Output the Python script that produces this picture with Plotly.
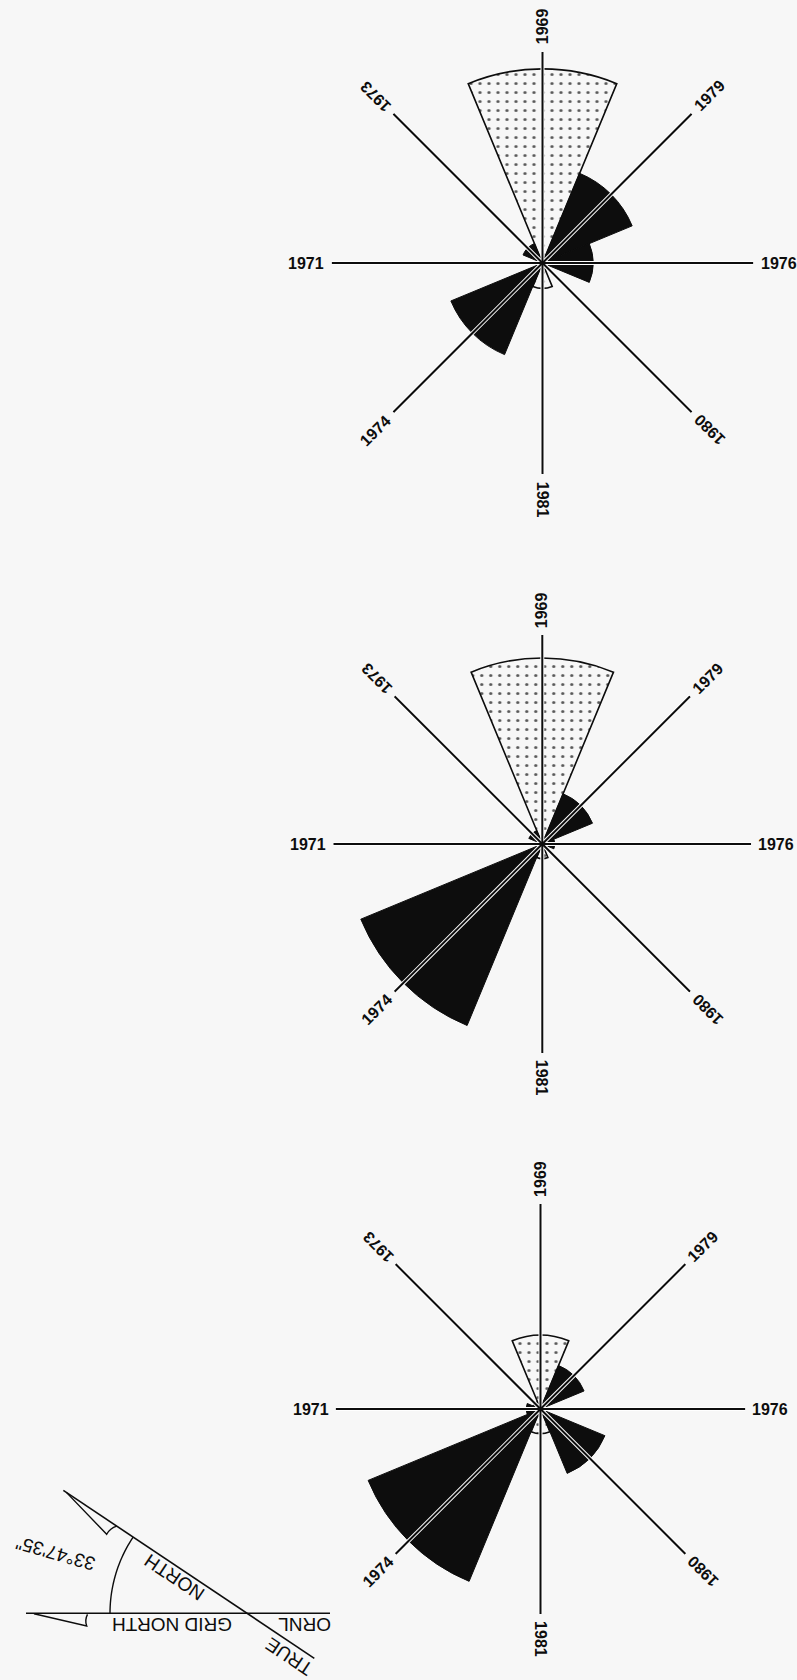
import math
import plotly.graph_objects as go

W, H = 797, 1680
BG = "#f7f7f7"
INK = "#0d0d0d"
FONT = "Liberation Sans, Arial, sans-serif"

# Eight directions, clockwise from the top
years = ["1969", "1979", "1976", "1980", "1981", "1974", "1971", "1973"]
label_angles = [-90, -45, 0, -135, 90, -45, 0, -135]

# Sector lengths, in percent of the spoke length
top_stippled = [92, 0, 0, 0, 12, 0, 0, 0]
top_solid = [0, 46, 24, 0, 0, 47, 0, 10]
mid_stippled = [89, 0, 0, 0, 7, 0, 0, 0]
mid_solid = [0, 26, 6, 0, 0, 94, 0, 7]
bot_stippled = [36, 0, 0, 0, 12, 0, 0, 0]
bot_solid = [0, 23, 0, 34, 0, 91, 7, 4]
SPOKE = 100

panels = [
    dict(cx=542.5, cy=263, R=211, stippled=top_stippled, solid=top_solid),
    dict(cx=542.3, cy=844, R=209, stippled=mid_stippled, solid=mid_solid),
    dict(cx=540.5, cy=1409, R=205, stippled=bot_stippled, solid=bot_solid),
]

fig = go.Figure()
layout_polars = {}
annotations = []

for i, p in enumerate(panels):
    key = "polar" if i == 0 else f"polar{i + 1}"
    sub = key
    cx, cy, R = p["cx"], p["cy"], p["R"]
    layout_polars[key] = dict(
        domain=dict(x=[(cx - R) / W, (cx + R) / W],
                    y=[1 - (cy + R) / H, 1 - (cy - R) / H]),
        bgcolor="rgba(0,0,0,0)",
        bargap=0,
        barmode="overlay",
        radialaxis=dict(visible=False, range=[0, SPOKE]),
        angularaxis=dict(visible=False, type="category", categoryarray=years,
                         rotation=90, direction="clockwise"),
    )
    fig.add_trace(go.Barpolar(
        r=p["stippled"], theta=years, subplot=sub, showlegend=False,
        marker=dict(color=BG, line=dict(color=INK, width=1.6),
                    pattern=dict(shape=".", fgcolor="#5a5a5a", bgcolor=BG,
                                 size=9, solidity=0.1, fillmode="replace")),
    ))
    fig.add_trace(go.Barpolar(
        r=p["solid"], theta=years, subplot=sub, showlegend=False,
        marker=dict(color=INK, line=dict(color=INK, width=1)),
    ))
    # spokes: white halo under a dark line
    th, rr = [], []
    for y in years:
        th += [y, y, None]
        rr += [0, SPOKE, None]
    fig.add_trace(go.Scatterpolar(r=rr, theta=th, mode="lines", subplot=sub,
                                  line=dict(color="white", width=4),
                                  showlegend=False, hoverinfo="skip"))
    fig.add_trace(go.Scatterpolar(r=rr, theta=th, mode="lines", subplot=sub,
                                  line=dict(color=INK, width=2),
                                  showlegend=False, hoverinfo="skip"))
    # direction labels beyond the spoke ends
    rl = 1.12 * R
    for k, (y, ang) in enumerate(zip(years, label_angles)):
        a = math.radians(45 * k)
        annotations.append(dict(
            x=cx + rl * math.sin(a), y=cy - rl * math.cos(a),
            xref="x", yref="y", text=y, showarrow=False, textangle=ang,
            xanchor="center", yanchor="middle",
            font=dict(family=FONT, size=16, color=INK, weight="bold"),
        ))

# Grid-north / true-north key
ox, oy = 247, 1613.3
dec = math.radians(33 + 47 / 60 + 35 / 3600)
ux, uy = -math.cos(dec), -math.sin(dec)
tn_far = (ox + 221 * ux, oy + 221 * uy)
tn_near = (ox - 81 * ux, oy - 81 * uy)
shapes = [
    dict(type="line", xref="x", yref="y", x0=26, y0=oy, x1=330, y1=oy,
         line=dict(color=INK, width=1.6)),
    dict(type="line", xref="x", yref="y", x0=tn_far[0], y0=tn_far[1],
         x1=tn_near[0], y1=tn_near[1], line=dict(color=INK, width=1.6)),
    dict(type="path", xref="x", yref="y",
         path=f"M 34,{oy + 0.5} L 86.7,1626 Q 84.5,1620 87.5,{oy + 1}",
         line=dict(color=INK, width=1.4)),
]
bx0, by0 = tn_far[0] + 3, tn_far[1] + 2
bx2 = 116.7
by2 = oy + (bx2 - ox) * math.tan(dec)
shapes.append(dict(type="path", xref="x", yref="y",
                   path=f"M {bx0},{by0} L 106.7,1534.3 Q 110,1528 {bx2},{by2}",
                   line=dict(color=INK, width=1.4)))
arc_r = 137
pts = []
for s in range(25):
    t = math.pi + dec * s / 24
    pts.append(f"{ox + arc_r * math.cos(t):.2f},{oy + arc_r * math.sin(t):.2f}")
shapes.append(dict(type="path", xref="x", yref="y", path="M " + " L ".join(pts),
                   line=dict(color=INK, width=1.4)))

deg = math.degrees(dec)
key_font = dict(family=FONT, size=19, color=INK)
for txt, x, y, ang in [
    ("33°47'35\"", 56, 1554, -164),
    ("NORTH", 175, 1577.5, deg - 180),
    ("GRID NORTH", 172.5, 1625, 180),
    ("ORNL", 305, 1625, 180),
    ("TRUE", 289, 1656.5, deg - 180),
]:
    annotations.append(dict(x=x, y=y, xref="x", yref="y", text=txt,
                            showarrow=False, textangle=ang,
                            xanchor="center", yanchor="middle", font=key_font))

fig.add_trace(go.Scatter(x=[], y=[], showlegend=False))
fig.update_layout(
    width=W, height=H, margin=dict(l=0, r=0, t=0, b=0),
    paper_bgcolor=BG, plot_bgcolor="rgba(0,0,0,0)",
    xaxis=dict(visible=False, range=[0, W], domain=[0, 1], fixedrange=True),
    yaxis=dict(visible=False, range=[H, 0], domain=[0, 1], fixedrange=True),
    annotations=annotations, shapes=shapes, showlegend=False,
    **layout_polars,
)
fig.write_html("out.html")
